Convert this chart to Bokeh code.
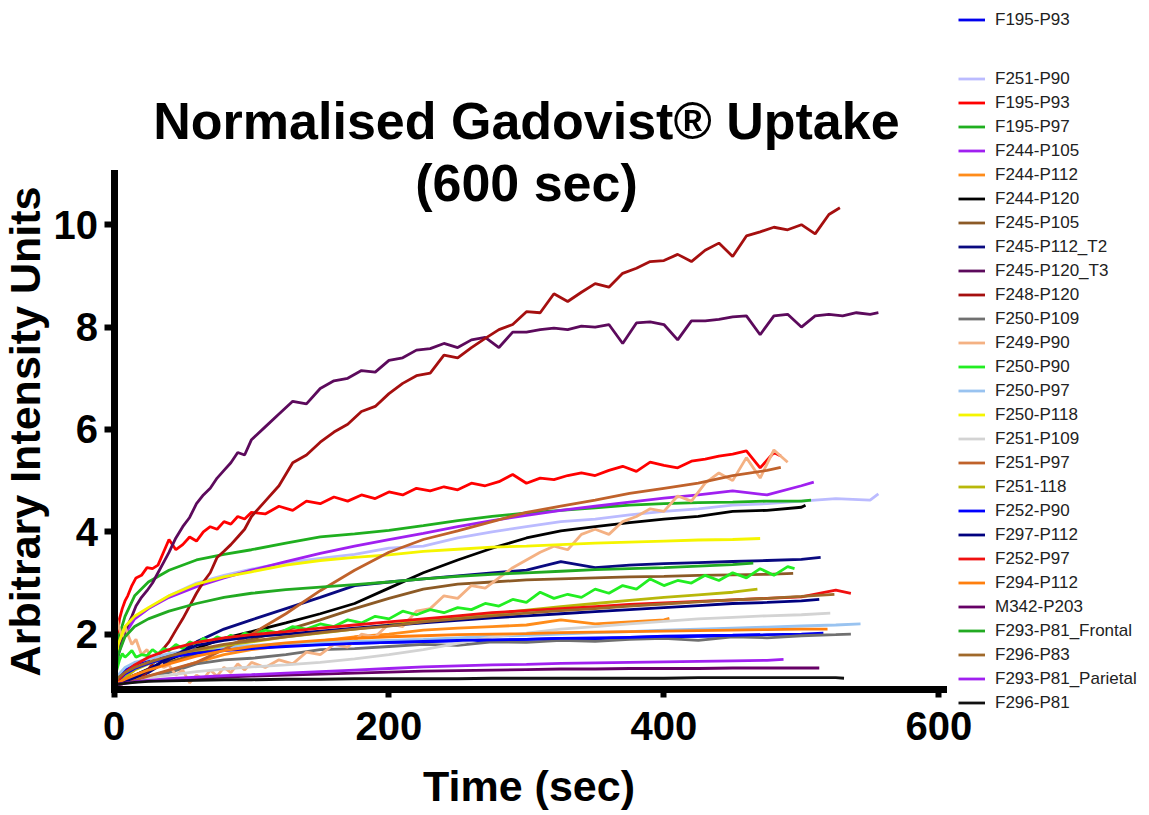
from bokeh.plotting import figure
from bokeh.models import Range1d, FixedTicker, Legend, LegendItem, Label
from bokeh.embed import file_html
from bokeh.resources import INLINE

FONT = "Liberation Sans"

# sampling grids (seconds)
T_FINE = [0, 2, 4, 6, 8, 10, 13, 16, 20, 24, 28, 32, 36, 40, 45, 50, 55, 60, 65, 70,
          75, 80, 85, 90, 95, 100, 110, 120, 130, 140, 150, 160, 170, 180, 190, 200,
          210, 220, 230, 240, 250, 260, 270, 280, 290, 300, 310, 320, 330, 340, 350,
          360, 370, 380, 390, 400, 410, 420, 430, 440, 450, 460, 470, 480, 490, 500,
          510, 520, 530, 540, 550]
T_COARSE = [0, 3, 8, 15, 25, 40, 60, 80, 100, 125, 150, 175, 200, 225, 250, 275,
            300, 325, 350, 375, 400, 425, 450, 475, 500, 525, 550]

X_TICKS = [0, 200, 400, 600]
Y_TICKS = [2, 4, 6, 8, 10]
X_AXIS_SPAN = (0, 603)
Y_AXIS_SPAN = (0.925, 11)

# ---- series values ----
F195_P93_blue = [1.0, 1.15, 1.3, 1.4, 1.5, 1.6, 1.68, 1.72, 1.75, 1.78, 1.8, 1.82, 1.84,
                 1.85, 1.87, 1.88, 1.9, 1.92, 1.91, 1.94, 1.95, 1.96, 1.97, 1.99, 2.0, 2.02]
F251_P90 = [1.0, 1.7, 2.05, 2.3, 2.5, 2.75, 3.0, 3.15, 3.27, 3.4, 3.48, 3.56, 3.68, 3.72,
            3.88, 4.0, 4.1, 4.2, 4.25, 4.33, 4.4, 4.45, 4.52, 4.55, 4.6, 4.65, 4.62, 4.74]
F195_P93_red = [1.0, 1.9, 2.3, 2.5, 2.65, 2.75, 2.95, 3.1, 3.15, 3.3, 3.28, 3.35, 3.6, 3.85,
                3.65, 3.75, 3.9, 3.82, 4.0, 4.1, 4.05, 4.2, 4.15, 4.3, 4.25, 4.38, 4.35,
                4.5, 4.42, 4.6, 4.55, 4.68, 4.6, 4.72, 4.65, 4.78, 4.72, 4.85, 4.8, 4.88,
                4.82, 4.95, 4.9, 4.98, 5.12, 4.95, 5.05, 5.02, 5.1, 5.15, 5.1, 5.2, 5.28,
                5.18, 5.36, 5.3, 5.25, 5.38, 5.42, 5.48, 5.52, 5.58, 5.25, 5.55, 5.48]
F195_P97 = [1.0, 1.9, 2.35, 2.75, 3.02, 3.25, 3.45, 3.56, 3.65, 3.78, 3.9, 3.96, 4.03, 4.12,
            4.22, 4.3, 4.37, 4.42, 4.47, 4.52, 4.55, 4.57, 4.58, 4.6, 4.6, 4.62]
F244_P105 = [1.0, 1.6, 2.0, 2.3, 2.5, 2.72, 2.93, 3.1, 3.25, 3.42, 3.58, 3.72, 3.85, 3.97,
             4.1, 4.22, 4.32, 4.42, 4.5, 4.58, 4.66, 4.72, 4.8, 4.72, 4.9, 4.97]
F244_P112 = [1.0, 1.03, 1.07, 1.12, 1.18, 1.28, 1.45, 1.6, 1.7, 1.78, 1.87, 1.95, 2.0, 2.08,
             2.12, 2.15, 2.18, 2.28, 2.2, 2.24, 2.28, 2.31]
F244_P120 = [1.0, 1.05, 1.12, 1.2, 1.32, 1.5, 1.72, 1.92, 2.05, 2.22, 2.4, 2.6, 2.9, 3.2,
             3.45, 3.68, 3.88, 4.02, 4.1, 4.18, 4.25, 4.3, 4.4, 4.42, 4.48, 4.52]
F245_P105 = [1.0, 1.05, 1.12, 1.2, 1.3, 1.45, 1.62, 1.78, 1.9, 2.08, 2.28, 2.5, 2.7, 2.88,
             2.98, 3.02, 3.06, 3.08, 3.1, 3.12, 3.13, 3.15, 3.16, 3.17, 3.19]
F245_P112_T2 = [1.0, 1.03, 1.07, 1.12, 1.25, 1.5, 1.85, 2.1, 2.28, 2.5, 2.72, 2.95, 3.02,
                3.08, 3.14, 3.2, 3.25, 3.42, 3.3, 3.35, 3.38, 3.4, 3.42, 3.44, 3.46, 3.5]
F245_P120_T3 = [1.0, 1.45, 1.7, 1.9, 2.05, 2.18, 2.35, 2.55, 2.72, 2.85, 3.0, 3.2, 3.4, 3.6,
                3.88, 4.1, 4.28, 4.55, 4.72, 4.85, 5.05, 5.2, 5.35, 5.55, 5.5, 5.8, 6.05,
                6.3, 6.55, 6.5, 6.8, 6.95, 7.0, 7.15, 7.12, 7.35, 7.4, 7.55, 7.58, 7.68,
                7.6, 7.75, 7.8, 7.6, 7.9, 7.9, 7.95, 7.98, 7.95, 8.02, 8.0, 8.05, 7.68,
                8.08, 8.1, 8.05, 7.75, 8.12, 8.12, 8.15, 8.2, 8.22, 7.85, 8.22, 8.25, 8.0,
                8.22, 8.25, 8.22, 8.28, 8.25, 8.28]
F248_P120 = [1.0, 1.0, 1.02, 1.03, 1.05, 1.06, 1.08, 1.1, 1.15, 1.28, 1.42, 1.55, 1.72, 1.85,
             2.08, 2.3, 2.55, 2.8, 3.02, 3.2, 3.5, 3.62, 3.75, 3.9, 4.05, 4.3, 4.6, 4.9,
             5.35, 5.5, 5.75, 5.95, 6.1, 6.35, 6.45, 6.7, 6.9, 7.05, 7.1, 7.45, 7.4, 7.6,
             7.78, 7.95, 8.05, 8.3, 8.28, 8.65, 8.5, 8.68, 8.85, 8.78, 9.05, 9.15, 9.28,
             9.3, 9.42, 9.28, 9.5, 9.64, 9.38, 9.78, 9.86, 9.95, 9.9, 10.0, 9.82, 10.2, 10.33]
F250_P109 = [1.0, 1.02, 1.06, 1.1, 1.18, 1.25, 1.42, 1.5, 1.53, 1.6, 1.7, 1.72, 1.76, 1.8,
             1.78, 1.85, 1.84, 1.88, 1.86, 1.9, 1.92, 1.88, 1.95, 1.93, 1.97, 1.99, 2.0]
F249_P90 = [2.5, 2.3, 2.1, 1.95, 2.15, 2.0, 1.8, 1.9, 1.6, 1.7, 1.45, 1.55, 1.35, 1.4, 1.2,
            1.3, 1.05, 1.2, 1.12, 1.3, 1.18, 1.35, 1.25, 1.42, 1.3, 1.45, 1.35, 1.5, 1.42,
            1.65, 1.6, 1.8, 1.75, 2.0, 1.95, 2.2, 2.15, 2.45, 2.5, 2.75, 2.7, 2.95, 2.9,
            3.1, 3.3, 3.45, 3.6, 3.72, 3.65, 3.95, 4.05, 3.95, 4.2, 4.3, 4.45, 4.4, 4.7,
            4.6, 4.95, 5.15, 5.0, 5.45, 5.05, 5.6, 5.36]
F250_P90 = [1.0, 1.3, 1.5, 1.62, 1.55, 1.6, 1.68, 1.55, 1.6, 1.58, 1.7, 1.62, 1.72, 1.68,
            1.8, 1.72, 1.85, 1.8, 1.92, 1.85, 1.95, 1.9, 1.98, 1.92, 2.02, 1.98, 2.08, 2.02,
            2.15, 2.1, 2.2, 2.15, 2.28, 2.22, 2.35, 2.3, 2.45, 2.38, 2.48, 2.42, 2.52, 2.48,
            2.6, 2.55, 2.68, 2.62, 2.82, 2.7, 2.78, 2.72, 2.88, 2.8, 2.95, 2.88, 3.08, 2.95,
            3.05, 3.0, 3.15, 3.05, 3.2, 3.1, 3.28, 3.15, 3.32, 3.28]
F250_P97 = [1.0, 1.2, 1.35, 1.45, 1.52, 1.62, 1.7, 1.75, 1.78, 1.82, 1.84, 1.86, 1.88, 1.9,
            1.93, 1.96, 1.98, 2.0, 2.03, 2.05, 2.08, 2.1, 2.12, 2.14, 2.16, 2.18, 2.2]
F250_P118 = [1.0, 1.8, 2.15, 2.35, 2.52, 2.75, 2.98, 3.12, 3.22, 3.35, 3.44, 3.5, 3.55, 3.62,
             3.66, 3.7, 3.72, 3.75, 3.78, 3.8, 3.82, 3.84, 3.85, 3.87]
F251_P109 = [1.0, 1.02, 1.05, 1.1, 1.15, 1.2, 1.27, 1.32, 1.36, 1.4, 1.45, 1.52, 1.6, 1.7,
             1.82, 1.95, 2.02, 2.1, 2.15, 2.2, 2.25, 2.3, 2.33, 2.36, 2.38, 2.41]
F251_P97 = [1.0, 1.02, 1.05, 1.1, 1.18, 1.3, 1.45, 1.7, 2.0, 2.4, 2.85, 3.25, 3.6, 3.85,
            4.02, 4.2, 4.38, 4.5, 4.62, 4.75, 4.85, 4.95, 5.1, 5.2, 5.26]
F251_118 = [1.0, 1.05, 1.15, 1.3, 1.42, 1.55, 1.68, 1.78, 1.85, 1.95, 2.02, 2.1, 2.18, 2.26,
            2.33, 2.4, 2.47, 2.54, 2.6, 2.66, 2.72, 2.77, 2.82, 2.88]
F252_P90 = [1.0, 1.1, 1.22, 1.33, 1.43, 1.55, 1.63, 1.68, 1.72, 1.76, 1.79, 1.82, 1.84, 1.86,
            1.88, 1.89, 1.9, 1.92, 1.93, 1.94, 1.96, 1.97, 1.98, 1.99]
F297_P112 = [1.0, 1.03, 1.08, 1.15, 1.3, 1.55, 1.78, 1.88, 1.95, 2.0, 2.06, 2.12, 2.17, 2.22,
             2.27, 2.32, 2.36, 2.4, 2.44, 2.48, 2.52, 2.56, 2.6, 2.62, 2.65, 2.68]
F252_P97 = [1.0, 1.1, 1.25, 1.4, 1.55, 1.7, 1.84, 1.93, 1.99, 2.05, 2.12, 2.18, 2.24, 2.3,
            2.36, 2.42, 2.46, 2.5, 2.54, 2.58, 2.61, 2.64, 2.67, 2.7, 2.73, 2.86, 2.8]
F294_P112 = [1.0, 1.05, 1.12, 1.2, 1.3, 1.42, 1.57, 1.68, 1.76, 1.83, 1.88, 1.92, 1.95, 1.97,
             1.99, 2.0, 2.01, 2.03, 2.04, 2.05, 2.06, 2.07, 2.08, 2.09, 2.1, 2.1]
M342_P203 = [1.0, 1.03, 1.05, 1.07, 1.09, 1.11, 1.14, 1.16, 1.18, 1.2, 1.22, 1.24, 1.26, 1.28,
             1.29, 1.3, 1.31, 1.32, 1.32, 1.33, 1.33, 1.33, 1.34, 1.34, 1.34, 1.34]
F293_P81_Frontal = [1.0, 1.6, 1.95, 2.15, 2.3, 2.45, 2.6, 2.72, 2.8, 2.87, 2.92, 2.97, 3.02,
                    3.08, 3.13, 3.17, 3.2, 3.23, 3.26, 3.28, 3.3, 3.33, 3.36, 3.39]
F296_P83 = [1.0, 1.15, 1.25, 1.35, 1.45, 1.57, 1.7, 1.8, 1.87, 1.95, 2.03, 2.1, 2.16, 2.24,
            2.3, 2.36, 2.41, 2.46, 2.5, 2.55, 2.59, 2.63, 2.67, 2.7, 2.74, 2.78]
F293_P81_Parietal = [1.0, 1.02, 1.04, 1.07, 1.1, 1.13, 1.16, 1.19, 1.21, 1.24, 1.27, 1.3,
                     1.33, 1.36, 1.38, 1.4, 1.41, 1.43, 1.44, 1.45, 1.46, 1.47, 1.48, 1.49, 1.51]
F296_P81 = [1.0, 1.02, 1.04, 1.06, 1.08, 1.09, 1.1, 1.11, 1.11, 1.12, 1.12, 1.13, 1.13, 1.13,
            1.13, 1.14, 1.14, 1.14, 1.14, 1.14, 1.14, 1.15, 1.15, 1.15, 1.15, 1.15, 1.14]

# legend order: (label, colour, sampling grid, last time, values)
SERIES = [
    ("F195-P93", "#0000EE", T_COARSE, 516, F195_P93_blue),
    ("F251-P90", "#BBBBFF", T_COARSE, 556, F251_P90),
    ("F195-P93", "#FF0000", T_FINE, 485, F195_P93_red),
    ("F195-P97", "#1FAF1F", T_COARSE, 507, F195_P97),
    ("F244-P105", "#A020F0", T_COARSE, 509, F244_P105),
    ("F244-P112", "#FF8C1A", T_COARSE, 404, F244_P112),
    ("F244-P120", "#000000", T_COARSE, 503, F244_P120),
    ("F245-P105", "#8C5A26", T_COARSE, 494, F245_P105),
    ("F245-P112_T2", "#0A0A80", T_COARSE, 514, F245_P112_T2),
    ("F245-P120_T3", "#5C0A5C", T_FINE, 556, F245_P120_T3),
    ("F248-P120", "#A50F0F", T_FINE, 528, F248_P120),
    ("F250-P109", "#707070", T_COARSE, 536, F250_P109),
    ("F249-P90", "#F4B183", T_FINE, 490, F249_P90),
    ("F250-P90", "#22EE22", T_FINE, 495, F250_P90),
    ("F250-P97", "#99C3F0", T_COARSE, 543, F250_P97),
    ("F250-P118", "#F5F500", T_COARSE, 470, F250_P118),
    ("F251-P109", "#D3D3D3", T_COARSE, 521, F251_P109),
    ("F251-P97", "#C0622B", T_COARSE, 485, F251_P97),
    ("F251-118", "#B8B80A", T_COARSE, 468, F251_118),
    ("F252-P90", "#0000FF", T_COARSE, 470, F252_P90),
    ("F297-P112", "#00007F", T_COARSE, 513, F297_P112),
    ("F252-P97", "#F01010", T_COARSE, 536, F252_P97),
    ("F294-P112", "#FF7F0E", T_COARSE, 519, F294_P112),
    ("M342-P203", "#660066", T_COARSE, 513, M342_P203),
    ("F293-P81_Frontal", "#22AA22", T_COARSE, 465, F293_P81_Frontal),
    ("F296-P83", "#A0692A", T_COARSE, 524, F296_P83),
    ("F293-P81_Parietal", "#A020F0", T_COARSE, 487, F293_P81_Parietal),
    ("F296-P81", "#111111", T_COARSE, 531, F296_P81),
]

# The frame covers the whole canvas; the axes are pinned inside it with
# fixed_location and limited with bounds, so title and legend stay visible.
W, H = 1149, 815
PX_PER_S = 1.3748
PX_PER_U = 51.19
x0 = -113.5 / PX_PER_S
y1 = 11 + 173 / PX_PER_U

p = figure(width=W, height=H, output_backend="svg", toolbar_location=None,
           x_range=Range1d(x0, x0 + W / PX_PER_S),
           y_range=Range1d(y1 - H / PX_PER_U, y1),
           min_border=0)
p.outline_line_color = None
p.grid.visible = False
p.background_fill_color = "white"
p.border_fill_color = "white"

renderers = []
for label, color, grid, end, vals in SERIES:
    xs = [t for t in grid if t < end] + [end]
    n = min(len(xs), len(vals))
    r = p.line(xs[:n], vals[:n], line_color=color, line_width=2.8)
    renderers.append(r)

# axes
p.xaxis.ticker = FixedTicker(ticks=X_TICKS)
p.yaxis.ticker = FixedTicker(ticks=Y_TICKS)
p.xaxis.bounds = X_AXIS_SPAN
p.yaxis.bounds = Y_AXIS_SPAN
p.xaxis.fixed_location = Y_AXIS_SPAN[0]
p.yaxis.fixed_location = X_AXIS_SPAN[0]
for ax in (p.xaxis[0], p.yaxis[0]):
    ax.axis_line_width = 7
    ax.axis_line_color = "black"
    ax.axis_line_cap = "square"
    ax.major_tick_line_width = 6
    ax.major_tick_line_color = "black"
    ax.major_tick_in = 0
    ax.minor_tick_in = 0
    ax.minor_tick_out = 0
    ax.major_label_text_font = FONT
    ax.major_label_text_font_style = "bold"
    ax.major_label_text_font_size = "40px"
    ax.major_label_text_color = "black"
    ax.axis_label_text_font = FONT
    ax.axis_label_text_font_style = "bold"
    ax.axis_label_text_font_size = "43px"
    ax.axis_label_text_color = "black"
p.xaxis.major_tick_out = 8
p.yaxis.major_tick_out = 10
p.xaxis.major_label_standoff = 15
p.yaxis.major_label_standoff = 6
p.xaxis.axis_label = "Time (sec)"
p.yaxis.axis_label = "Arbitrary Intensity Units"
p.xaxis.axis_label_standoff = 18
p.yaxis.axis_label_standoff = 2

# title (two lines, centred over the plot)
for txt, yy in (("Normalised Gadovist\u00ae Uptake", 12.035), ("(600 sec)", 10.824)):
    p.add_layout(Label(x=300, y=yy, text=txt, text_align="center",
                       text_baseline="alphabetic", text_font=FONT,
                       text_font_style="bold", text_font_size="52px",
                       text_color="black"))

def make_legend(items, loc):
    lg = Legend(items=items, location=loc, orientation="vertical")
    lg.border_line_alpha = 0
    lg.background_fill_alpha = 0
    lg.padding = 0
    lg.margin = 0
    lg.spacing = 3
    lg.label_height = 21
    lg.glyph_height = 21
    lg.glyph_width = 27
    lg.label_standoff = 10
    lg.label_text_font = FONT
    lg.label_text_font_size = "17px"
    lg.label_text_color = "#222222"
    return lg

leg_a = make_legend([LegendItem(label=SERIES[0][0], renderers=[renderers[0]])], (958, 785))
leg_b = make_legend([LegendItem(label=s[0], renderers=[r]) for s, r in zip(SERIES[1:], renderers[1:])],
                    (958, 102))
p.add_layout(leg_a, "center")
p.add_layout(leg_b, "center")

open("out.html", "w").write(file_html(p, INLINE))
